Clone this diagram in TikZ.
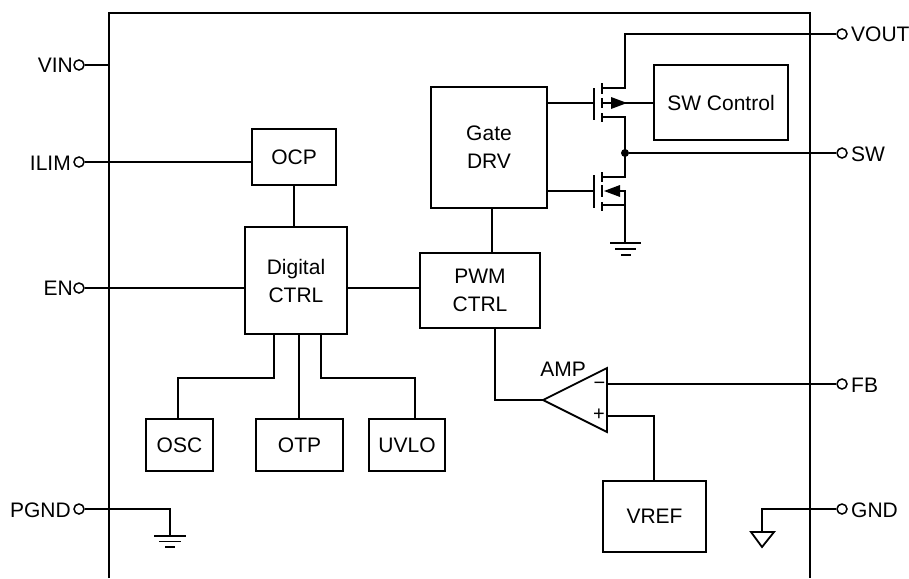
\documentclass[tikz,border=0pt]{standalone}
\usepackage{fontspec}
\setmainfont{Liberation Sans}
\usetikzlibrary{calc}
\tikzset{
  x=1pt,y=-1pt,
  wire/.style={line width=1.8pt,line join=miter,line cap=butt},
  thin wire/.style={line width=1.5pt},
  block/.style={draw,line width=1.8pt,inner sep=0pt,align=center,font=\fontsize{21}{28}\selectfont},
  pin/.style={circle,draw,line width=1.5pt,fill=white,inner sep=0pt,minimum size=10pt},
  lbl/.style={inner sep=0pt,font=\fontsize{21}{24}\selectfont},
  solid tip/.style={fill=black,draw=none},
  dot/.style={circle,fill=black,inner sep=0pt,minimum size=8pt},
}
\begin{document}
\begin{tikzpicture}
\useasboundingbox (0,0) rectangle (909,578);
% package outline (open at the bottom)
\coordinate (bl) at (109,578);
\coordinate (tl) at (109,13);
\coordinate (tr) at (810,13);
\coordinate (br) at (810,578);
\draw[thin wire] (bl) -- (tl) -- (tr) -- (br);
% blocks
\node[block,minimum width=84pt,minimum height=56pt] (ocp) at (294,157) {OCP};
\node[block,minimum width=102pt,minimum height=107pt] (digital) at (296,280.5) {Digital\\CTRL};
\node[block,minimum width=120pt,minimum height=75pt] (pwm) at (480,290.5) {PWM\\CTRL};
\node[block,minimum width=116pt,minimum height=121pt] (gate) at (489,147.5) {Gate\\DRV};
\node[block,minimum width=134pt,minimum height=75pt] (swc) at (721,102.5) {SW Control};
\node[block,minimum width=67pt,minimum height=52pt] (osc) at (179.5,445) {OSC};
\node[block,minimum width=87pt,minimum height=52pt] (otp) at (299.5,445) {OTP};
\node[block,minimum width=76pt,minimum height=52pt] (uvlo) at (407,445) {UVLO};
\node[block,minimum width=103pt,minimum height=71pt] (vref) at (654.5,516.5) {VREF};
% pins
\node[pin] (vin) at (79,65) {};
\node[pin] (ilim) at (79,162) {};
\node[pin] (en) at (79,288) {};
\node[pin] (pgnd) at (79,509) {};
\node[pin] (vout) at (842,34) {};
\node[pin] (sw) at (842,153) {};
\node[pin] (fb) at (842,384) {};
\node[pin] (gnd) at (842,509) {};
\node[lbl,anchor=east] (vinl) at (73,65) {VIN};
\node[lbl,anchor=east] (iliml) at (71,163) {ILIM};
\node[lbl,anchor=east] (enl) at (73,288) {EN};
\node[lbl,anchor=east] (pgndl) at (71,510) {PGND};
\node[lbl,anchor=west] (voutl) at (851,34) {VOUT};
\node[lbl,anchor=west] (swl) at (851,154) {SW};
\node[lbl,anchor=west] (fbl) at (851,385) {FB};
\node[lbl,anchor=west] (gndl) at (851,510) {GND};
% left connectors
\draw[wire] (vin) -- (vin -| tl);
\draw[wire] (ilim) -- (ilim -| ocp.west);
\draw[wire] (en) -- (en -| digital.west);
\draw[wire] (ocp.south) -- (ocp.south |- digital.north);
\draw[wire] (digital.east |- en) -- (pwm.west |- en);
\draw[wire] (gate.south -| 492,0) -- (pwm.north -| 492,0);
% digital fan-out
\coordinate (da) at (274,334);
\coordinate (db) at (299,334);
\coordinate (dc) at (321,334);
\draw[wire] (da) -- (274,378) -- (178,378) -- (osc.north -| 178,0);
\draw[wire] (db) -- (otp.north -| db);
\draw[wire] (dc) -- (321,378) -- (415,378) -- (uvlo.north -| 415,0);
% amplifier
\coordinate (ampout) at (543,400);
\coordinate (ampt) at (607,368);
\coordinate (ampb) at (607,432);
\coordinate (ampm) at (607,384);
\coordinate (ampp) at (607,416);
\draw[wire,line join=miter] (ampout) -- (ampt) -- (ampb) -- cycle;
\node[lbl] (ampl) at (563,369) {AMP};
\node[lbl,font=\fontsize{20}{20}\selectfont] (amin) at (599.5,385.5) {−};
\node[lbl,font=\fontsize{20}{20}\selectfont] (aplus) at (599,415) {+};
\draw[wire] (pwm.south -| 495,0) -- (495,400) -- (ampout);
\draw[wire] (ampm) -- (fb);
\draw[wire] (ampp) -- (654,416) -- (vref.north -| 654,0);
% upper MOSFET
\coordinate (qhg) at (594,103);
\coordinate (qhd) at (625,88);
\coordinate (qhs) at (625,117);
\coordinate (jn) at (625,153);
\draw[wire] (gate.east |- qhg) -- (qhg);
\draw[wire] (594,88) -- (594,120);
\draw[wire] (602,83) -- (602,94) (602,98) -- (602,108) (602,113) -- (602,122);
\draw[wire] (602,88) -- (qhd) -- (625,34) -- (vout);
\draw[wire] (602,117) -- (qhs) -- (jn);
\draw[wire] (602,103) -- (swc.west |- qhg);
\fill[solid tip] (611,97) -- (627,103) -- (611,109) -- cycle;
% lower MOSFET
\coordinate (qlg) at (594,191);
\coordinate (qld) at (625,177);
\coordinate (qls) at (625,205);
\coordinate (gnda) at (625,243);
\draw[wire] (gate.east |- qlg) -- (qlg);
\draw[wire] (594,175) -- (594,208);
\draw[wire] (602,172) -- (602,182) (602,185) -- (602,197) (602,202) -- (602,211);
\draw[wire] (602,177) -- (qld) -- (jn);
\draw[wire] (602,205) -- (qls);
\draw[wire] (610,191) -- (625,191) -- (gnda);
\fill[solid tip] (604,191) -- (620,185) -- (620,197) -- cycle;
\node[dot] (jdot) at (jn) {};
\draw[wire] (jdot) -- (sw);
% switch ground
\draw[wire] (610,243) -- (641,243) (615,249) -- (636,249) (621,255) -- (631,255);
% PGND
\coordinate (pg) at (170,536);
\draw[wire] (pgnd) -- (170,509) -- (pg);
\draw[wire] (154,536) -- (186,536) (159,541.5) -- (181,541.5) (165,547) -- (175,547);
% GND
\coordinate (gg) at (762,532);
\draw[wire] (gnd) -- (762,509) -- (gg);
\draw[wire] (751,532) -- (774,532) -- (762,547) -- cycle;
\end{tikzpicture}
\end{document}
